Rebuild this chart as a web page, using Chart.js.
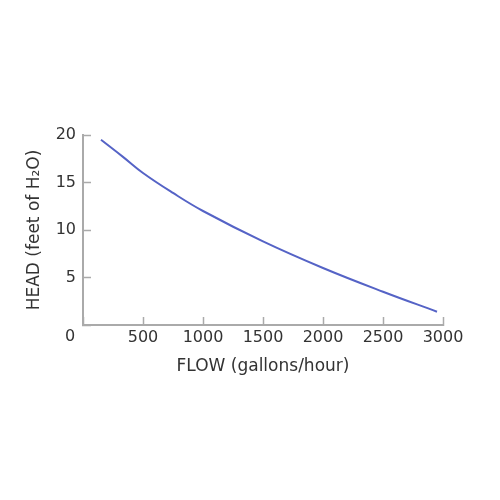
<!DOCTYPE html>
<html>
<head>
<meta charset="utf-8">
<script src="https://cdn.jsdelivr.net/npm/chart.js@4/dist/chart.umd.min.js"></script>
<style>
  html, body { margin: 0; padding: 0; background: #fff; }
  #wrap { width: 500px; height: 500px; }
</style>
</head>
<body>
<div id="wrap"><canvas id="pump-chart"></canvas></div>
<script>
// pump curve
const flowValues = [150, 333, 500, 750, 1000, 1500, 2000, 2500, 2950];
const headValues = [19.5, 17.7, 16.0, 13.9, 12.0, 8.8, 6.0, 3.5, 1.4];
const flowTicks = [0, 500, 1000, 1500, 2000, 2500, 3000];
const headTicks = [0, 5, 10, 15, 20];

const axisGrey = '#aaaaaa';
const textColor = '#333333';
const fontFamily = '"DejaVu Sans", sans-serif';

const points = flowValues.map((f, i) => ({ x: f, y: headValues[i] }));

// the shared "0" sits in the corner under both axes
const originLabel = {
    id: 'originLabel',
    afterDraw(chart) {
        const ctx = chart.ctx;
        const x = chart.scales.x.getPixelForValue(0) - 13;
        const y = chart.scales.y.getPixelForValue(0) + 12;
        ctx.save();
        ctx.font = '16px ' + fontFamily;
        ctx.fillStyle = textColor;
        ctx.textAlign = 'center';
        ctx.textBaseline = 'middle';
        ctx.fillText('0', x, y);
        ctx.restore();
    }
};

new Chart(document.getElementById('pump-chart'), {
    type: 'line',
    data: {
        datasets: [{
            data: points,
            borderColor: '#5563c6',
            borderWidth: 2,
            pointRadius: 0,
            tension: 0.4,
            fill: false
        }]
    },
    options: {
        responsive: true,
        maintainAspectRatio: false,
        animation: false,
        layout: { padding: { left: 0, top: 135, right: 57, bottom: 115 } },
        plugins: { legend: { display: false }, tooltip: { enabled: false } },
        scales: {
            x: {
                type: 'linear',
                min: 0,
                max: 3000,
                afterBuildTicks: (scale) => { scale.ticks = flowTicks.map(v => ({ value: v })); },
                afterFit: (scale) => { scale.height = 60; },
                border: { color: axisGrey, width: 2 },
                grid: { drawOnChartArea: false, color: axisGrey, tickLength: -8, tickWidth: 1.5 },
                ticks: {
                    padding: 11,
                    color: textColor,
                    font: { family: fontFamily, size: 16 },
                    maxRotation: 0,
                    callback: (v) => v === 0 ? '' : v
                },
                title: {
                    display: true,
                    text: 'FLOW (gallons/hour)',
                    color: textColor,
                    font: { family: fontFamily, size: 17 },
                    padding: { top: 0, bottom: 8 }
                }
            },
            y: {
                type: 'linear',
                min: 0,
                max: 20,
                afterBuildTicks: (scale) => { scale.ticks = headTicks.map(v => ({ value: v })); },
                afterFit: (scale) => { scale.width = 83; },
                border: { color: axisGrey, width: 2 },
                grid: { drawOnChartArea: false, color: axisGrey, tickLength: -8, tickWidth: 1.5 },
                ticks: {
                    padding: 15,
                    color: textColor,
                    font: { family: fontFamily, size: 16 },
                    callback: (v) => v === 0 ? '' : v
                },
                title: {
                    display: true,
                    text: 'HEAD (feet of H₂O)',
                    color: textColor,
                    font: { family: fontFamily, size: 17 },
                    padding: { top: 24, bottom: 0 }
                }
            }
        }
    },
    plugins: [originLabel]
});
</script>
</body>
</html>
